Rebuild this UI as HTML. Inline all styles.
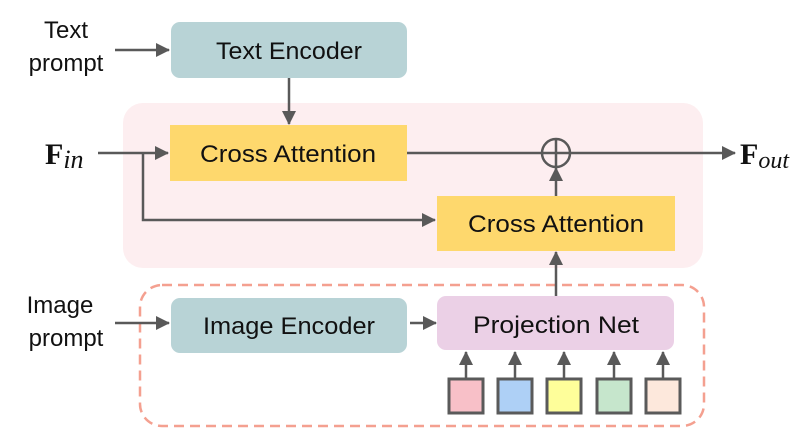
<!DOCTYPE html>
<html><head><style>body{margin:0;background:#fff}</style></head><body>
<svg width="801" height="432" xmlns="http://www.w3.org/2000/svg" style="display:block">
<defs>
<marker id="b" markerWidth="14" markerHeight="14" refX="13" refY="7" orient="auto" markerUnits="userSpaceOnUse"><path d="M0,0 L14,7 L0,14 z" fill="#595959"/></marker></defs>
<rect x="123" y="103" width="580" height="165" rx="20" fill="#fdeef0"/>
<rect x="140" y="285" width="564" height="141" rx="22" fill="none" stroke="#f4a090" stroke-width="2.5" stroke-dasharray="10,6"/>
<g font-family="Liberation Sans, sans-serif" font-size="24" fill="#111" text-anchor="middle">
<rect x="171" y="22" width="236" height="56" rx="9" fill="#b8d3d6"/><text x="289" y="59" textLength="146" lengthAdjust="spacingAndGlyphs">Text Encoder</text>
<rect x="170" y="125" width="237" height="56" fill="#fed86d"/><text x="288" y="162" textLength="176" lengthAdjust="spacingAndGlyphs">Cross Attention</text>
<rect x="437" y="196" width="238" height="55" fill="#fed86d"/><text x="556" y="232" textLength="176" lengthAdjust="spacingAndGlyphs">Cross Attention</text>
<rect x="171" y="298" width="236" height="55" rx="9" fill="#b8d3d6"/><text x="289" y="334" textLength="172" lengthAdjust="spacingAndGlyphs">Image Encoder</text>
<rect x="437" y="296" width="237" height="54" rx="9" fill="#ebd0e6"/><text x="556" y="333" textLength="166" lengthAdjust="spacingAndGlyphs">Projection Net</text>
<text x="66" y="38">Text</text><text x="66" y="71">prompt</text>
<text x="60" y="313">Image</text><text x="66" y="346">prompt</text>
</g>
<g font-family="Liberation Serif, serif" font-size="30" fill="#111">
<text x="45" y="164" font-weight="bold">F<tspan font-size="26" font-style="italic" font-weight="normal" dy="4">in</tspan></text>
<text x="740" y="164" font-weight="bold">F<tspan font-size="24" font-style="italic" font-weight="normal" dy="4">out</tspan></text>
</g>
<g stroke="#595959" stroke-width="2.5" fill="none">
<line x1="115" y1="50" x2="169" y2="50" marker-end="url(#b)"/>
<line x1="289" y1="78" x2="289" y2="124" marker-end="url(#b)"/>
<line x1="98" y1="153" x2="168" y2="153" marker-end="url(#b)"/>
<polyline points="143,153 143,220 435,220" marker-end="url(#b)"/>
<line x1="407" y1="153" x2="542" y2="153"/>
<line x1="570" y1="153" x2="735" y2="153" marker-end="url(#b)"/>
<circle cx="556" cy="153" r="14"/>
<line x1="542" y1="153" x2="570" y2="153"/><line x1="556" y1="139" x2="556" y2="167"/>
<line x1="556" y1="196" x2="556" y2="168" marker-end="url(#b)"/>
<line x1="556" y1="296" x2="556" y2="252" marker-end="url(#b)"/>
<line x1="115" y1="323" x2="169" y2="323" marker-end="url(#b)"/>
<line x1="410" y1="323" x2="436" y2="323" marker-end="url(#b)"/>
<line x1="466" y1="378" x2="466" y2="352" marker-end="url(#b)"/>
<line x1="515" y1="378" x2="515" y2="352" marker-end="url(#b)"/>
<line x1="564" y1="378" x2="564" y2="352" marker-end="url(#b)"/>
<line x1="614" y1="378" x2="614" y2="352" marker-end="url(#b)"/>
<line x1="663" y1="378" x2="663" y2="352" marker-end="url(#b)"/>
</g>
<g stroke="#5a5a5a" stroke-width="3">
<rect x="449" y="379" width="34" height="34" fill="#f8c0c8"/>
<rect x="498" y="379" width="34" height="34" fill="#aed0f6"/>
<rect x="547" y="379" width="34" height="34" fill="#fefe9a"/>
<rect x="597" y="379" width="34" height="34" fill="#c6e6cc"/>
<rect x="646" y="379" width="34" height="34" fill="#fde8dc"/>
</g>
</svg>
</body></html>
